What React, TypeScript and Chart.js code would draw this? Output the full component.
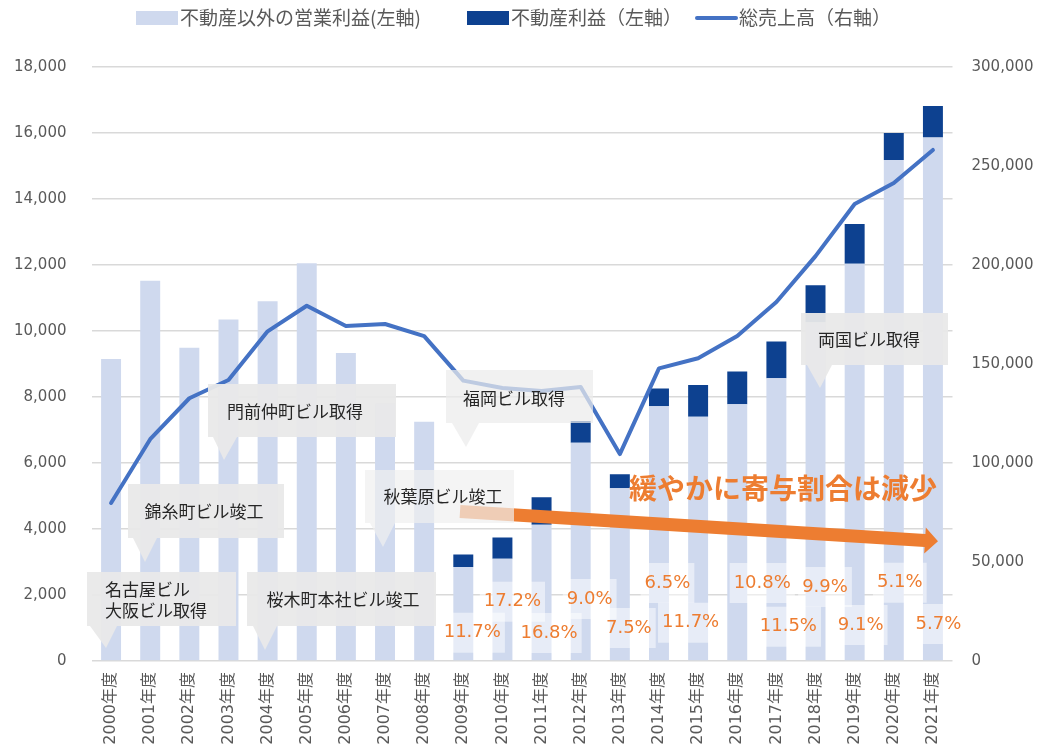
import React, { useEffect, useRef } from 'react';
import { Chart, registerables } from 'chart.js';

Chart.register(...registerables);

const years = [
  '2000年度', '2001年度', '2002年度', '2003年度', '2004年度', '2005年度', '2006年度', '2007年度',
  '2008年度', '2009年度', '2010年度', '2011年度', '2012年度', '2013年度', '2014年度', '2015年度',
  '2016年度', '2017年度', '2018年度', '2019年度', '2020年度', '2021年度',
];

// 不動産以外の営業利益 (left axis)
const otherProfit = [
  9150, 11520, 9490, 10350, 10900, 12050, 9330, 7800, 7250, 2852, 3097, 4127, 6616, 5235, 7723, 7400,
  7780, 8567, 10262, 12035, 15184, 15861,
];

// 不動産利益 (left axis)
const realEstateProfit = [
  0, 0, 0, 0, 0, 0, 0, 0, 0, 378, 643, 833, 654, 425, 537, 960, 990, 1113, 1128, 1205, 816, 959,
];

// 総売上高 (right axis)
const totalSales = [
  79800, 112000, 132700, 141900, 166500, 179400, 169200, 170200, 164100, 141600, 137900, 136400,
  138400, 104500, 147800, 152900, 164100, 181300, 204500, 230800, 241400, 258100,
];

// share of real-estate profit labels
const shareLabels = [
  '', '', '', '', '', '', '', '', '', '11.7%', '17.2%', '16.8%', '9.0%', '7.5%', '6.5%', '11.7%',
  '10.8%', '11.5%', '9.9%', '9.1%', '5.1%', '5.7%',
];
// label anchor (left-axis units) and horizontal shift (px)
const shareLabelLevel = [
  0, 0, 0, 0, 0, 0, 0, 0, 0, 857, 1797, 848, 1879, 1000, 2363, 1160, 2363, 1039, 2242, 1091, 2372, 1121,
];
const shareLabelShift = [
  0, 0, 0, 0, 0, 0, 0, 0, 0, 9, 10, 7.5, 9, 9, 8.5, -7.5, 25, 12, 9.5, 6, 6, 5.5,
];

const leftTicks = [0, 2000, 4000, 6000, 8000, 10000, 12000, 14000, 16000, 18000];
const rightTicks = [0, 50000, 100000, 150000, 200000, 250000, 300000];

const legendItems = [
  { text: '不動産以外の営業利益(左軸)', kind: 'box', color: '#CFD9EE', x: 136 },
  { text: '不動産利益（左軸）', kind: 'box', color: '#0D4190', x: 467 },
  { text: '総売上高（右軸）', kind: 'line', color: '#4472C4', x: 695 },
];

type Callout = {
  lines: string[];
  x1: number; y1: number; x2: number; y2: number;
  pa: number; pb: number; tx: number; ty: number;
  fill: string; align: 'left' | 'center'; textX: number; textY: number;
};

const callouts: Callout[] = [
  { lines: ['名古屋ビル', '大阪ビル取得'], x1: 87, y1: 572, x2: 236, y2: 626, pa: 90, pb: 117, tx: 106, ty: 648, fill: 'rgba(233,233,233,0.95)', align: 'left', textX: 105, textY: 590 },
  { lines: ['錦糸町ビル竣工'], x1: 128, y1: 484, x2: 284, y2: 538, pa: 133, pb: 157, tx: 145, ty: 562, fill: 'rgba(233,233,233,0.95)', align: 'center', textX: 204, textY: 512 },
  { lines: ['門前仲町ビル取得'], x1: 208, y1: 384, x2: 396, y2: 437, pa: 213, pb: 237, tx: 224, ty: 460, fill: 'rgba(233,233,233,0.95)', align: 'center', textX: 295, textY: 412 },
  { lines: ['桜木町本社ビル竣工'], x1: 247, y1: 572, x2: 436, y2: 626, pa: 253, pb: 277, tx: 265, ty: 650, fill: 'rgba(233,233,233,0.95)', align: 'center', textX: 343, textY: 600 },
  { lines: ['秋葉原ビル竣工'], x1: 365, y1: 470, x2: 514, y2: 523, pa: 370, pb: 395, tx: 383, ty: 547, fill: 'rgba(240,240,240,0.7)', align: 'center', textX: 443, textY: 497 },
  { lines: ['福岡ビル取得'], x1: 446, y1: 370, x2: 593, y2: 423, pa: 452, pb: 479, tx: 466, ty: 447, fill: 'rgba(236,236,236,0.72)', align: 'center', textX: 514, textY: 399 },
  { lines: ['両国ビル取得'], x1: 801, y1: 313, x2: 948, y2: 365, pa: 807, pb: 832, tx: 820, ty: 388, fill: 'rgba(233,233,233,0.95)', align: 'center', textX: 869, textY: 340 },
];

const trendText = '緩やかに寄与割合は減少';

const TICK_FONT = '"DejaVu Sans", "Noto Sans CJK JP", sans-serif';
const CJK_FONT = '"Noto Sans CJK JP", "DejaVu Sans", sans-serif';
const ORANGE = '#ED7D31';

const overlayPlugin = {
  id: 'overlay',
  afterDatasetsDraw(chart: any) {
    const ctx: CanvasRenderingContext2D = chart.ctx;
    const xs = chart.scales.x;
    const ys = chart.scales.y;

    // trend arrow
    ctx.save();
    const sx = 460, sy = 511.5, ex = 925, ey = 540.5, tipX = 938, tipY = 541.3;
    const dx = ex - sx, dy = ey - sy;
    const len = Math.hypot(dx, dy);
    const nx = -dy / len, ny = dx / len;
    const hw = 6.5;
    ctx.fillStyle = ORANGE;
    ctx.beginPath();
    ctx.moveTo(sx + nx * hw, sy + ny * hw);
    ctx.lineTo(ex + nx * hw, ey + ny * hw);
    ctx.lineTo(ex + nx * 13, ey + ny * 13);
    ctx.lineTo(tipX, tipY);
    ctx.lineTo(ex - nx * 13, ey - ny * 13);
    ctx.lineTo(ex - nx * hw, ey - ny * hw);
    ctx.lineTo(sx - nx * hw, sy - ny * hw);
    ctx.closePath();
    ctx.fill();
    ctx.restore();

    // callouts
    for (const c of callouts) {
      ctx.save();
      ctx.fillStyle = c.fill;
      ctx.beginPath();
      ctx.moveTo(c.x1, c.y1);
      ctx.lineTo(c.x2, c.y1);
      ctx.lineTo(c.x2, c.y2);
      ctx.lineTo(c.pb, c.y2);
      ctx.lineTo(c.tx, c.ty);
      ctx.lineTo(c.pa, c.y2);
      ctx.lineTo(c.x1, c.y2);
      ctx.closePath();
      ctx.fill();
      ctx.fillStyle = '#262626';
      ctx.font = `17px ${CJK_FONT}`;
      ctx.textAlign = c.align;
      ctx.textBaseline = 'middle';
      c.lines.forEach((ln, i) => ctx.fillText(ln, c.textX, c.textY + i * 21));
      ctx.restore();
    }

    // share labels with translucent white boxes
    ctx.save();
    ctx.font = `18px ${TICK_FONT}`;
    ctx.textBaseline = 'middle';
    ctx.textAlign = 'center';
    shareLabels.forEach((lbl, i) => {
      if (!lbl) return;
      const px = xs.getPixelForValue(i) + shareLabelShift[i];
      const py = ys.getPixelForValue(shareLabelLevel[i]);
      const w = ctx.measureText(lbl).width;
      ctx.fillStyle = 'rgba(255,255,255,0.5)';
      ctx.fillRect(px - w / 2 - 4, py - 20, w + 8, 40);
    });
    shareLabels.forEach((lbl, i) => {
      if (!lbl) return;
      const px = xs.getPixelForValue(i) + shareLabelShift[i];
      const py = ys.getPixelForValue(shareLabelLevel[i]);
      ctx.fillStyle = ORANGE;
      ctx.fillText(lbl, px, py);
    });
    ctx.restore();

    // trend text
    ctx.save();
    ctx.font = `bold 28px ${CJK_FONT}`;
    ctx.fillStyle = ORANGE;
    ctx.textAlign = 'left';
    ctx.textBaseline = 'middle';
    ctx.fillText(trendText, 629, 488);
    ctx.restore();
  },
  afterDraw(chart: any) {
    const ctx: CanvasRenderingContext2D = chart.ctx;
    ctx.save();
    ctx.font = `19px ${CJK_FONT}`;
    ctx.textBaseline = 'middle';
    ctx.textAlign = 'left';
    for (const it of legendItems) {
      if (it.kind === 'box') {
        ctx.fillStyle = it.color;
        ctx.fillRect(it.x, 11, 42, 14);
      } else {
        ctx.strokeStyle = it.color;
        ctx.lineWidth = 4;
        ctx.lineCap = 'round';
        ctx.beginPath();
        ctx.moveTo(it.x + 2, 18);
        ctx.lineTo(it.x + 41, 18);
        ctx.stroke();
      }
      ctx.fillStyle = '#595959';
      ctx.fillText(it.text, it.x + 44, 18);
    }
    ctx.restore();
  },
};

export default function App() {
  const ref = useRef<HTMLCanvasElement | null>(null);
  useEffect(() => {
    document.body.style.margin = '0';
    const canvas = ref.current;
    if (!canvas) return;
    const chart = new Chart(canvas, {
      data: {
        labels: years,
        datasets: [
          {
            type: 'line',
            label: '総売上高（右軸）',
            data: totalSales,
            yAxisID: 'y2',
            borderColor: '#4472C4',
            borderWidth: 4,
            pointRadius: 0,
            tension: 0,
            borderCapStyle: 'round',
            borderJoinStyle: 'round',
            order: 0,
          } as any,
          {
            type: 'bar',
            label: '不動産以外の営業利益(左軸)',
            data: otherProfit,
            backgroundColor: '#CFD9EE',
            yAxisID: 'y',
            stack: 's',
            barPercentage: 0.51,
            categoryPercentage: 1,
            order: 1,
          },
          {
            type: 'bar',
            label: '不動産利益（左軸）',
            data: realEstateProfit,
            backgroundColor: '#0D4190',
            yAxisID: 'y',
            stack: 's',
            barPercentage: 0.51,
            categoryPercentage: 1,
            order: 1,
          },
        ],
      },
      options: {
        animation: false,
        responsive: false,
        maintainAspectRatio: false,
        layout: { padding: { top: 67, left: 0, right: 0, bottom: 0 } },
        scales: {
          x: {
            stacked: true,
            grid: { display: false, drawTicks: true, tickLength: 8 },
            border: { display: false },
            ticks: {
              minRotation: 90,
              maxRotation: 90,
              autoSkip: false,
              padding: 3,
              color: '#595959',
              font: { size: 16, family: TICK_FONT },
            },
            afterFit: (s: any) => { s.height = 91; },
          },
          y: {
            stacked: true,
            min: 0,
            max: 18000,
            afterBuildTicks: (s: any) => { s.ticks = leftTicks.map((v) => ({ value: v })); },
            ticks: {
              padding: 25,
              color: '#595959',
              font: { size: 15, family: TICK_FONT },
              callback: (v: any) => Number(v).toLocaleString('en-US'),
            },
            grid: { color: '#D9D9D9', lineWidth: 1.5, drawTicks: false },
            border: { display: false },
            afterFit: (s: any) => { s.width = 91.5; },
          },
          y2: {
            position: 'right',
            min: 0,
            max: 300000,
            afterBuildTicks: (s: any) => { s.ticks = rightTicks.map((v) => ({ value: v })); },
            ticks: {
              padding: 19,
              color: '#595959',
              font: { size: 15, family: TICK_FONT },
              callback: (v: any) => Number(v).toLocaleString('en-US'),
            },
            grid: { display: false, drawTicks: false },
            border: { display: false },
            afterFit: (s: any) => { s.width = 85.5; },
          },
        },
        plugins: {
          legend: { display: false },
          tooltip: { enabled: false },
        },
      },
      plugins: [overlayPlugin],
    } as any);
    return () => chart.destroy();
  }, []);
  return (
    <div style={{ width: 1038, height: 752, position: 'relative' }}>
      <canvas ref={ref} width={1038} height={752} style={{ display: 'block', width: 1038, height: 752 }} />
    </div>
  );
}
